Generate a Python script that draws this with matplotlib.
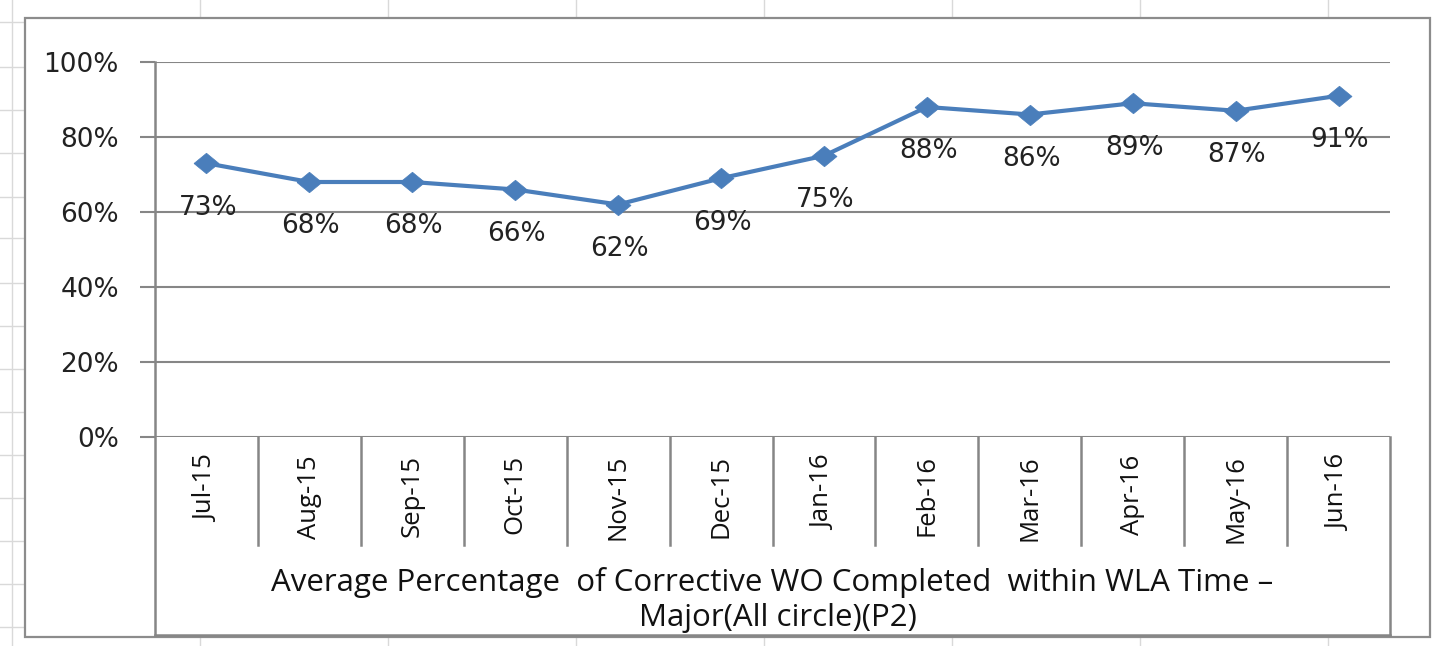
import matplotlib
matplotlib.use("Agg")
import matplotlib.pyplot as plt
from matplotlib.lines import Line2D
from matplotlib.patches import Rectangle
from matplotlib.transforms import blended_transform_factory

categories = ["Jul-15", "Aug-15", "Sep-15", "Oct-15", "Nov-15", "Dec-15",
              "Jan-16", "Feb-16", "Mar-16", "Apr-16", "May-16", "Jun-16"]
values = [73, 68, 68, 66, 62, 69, 75, 88, 86, 89, 87, 91]
y_ticks = [0, 20, 40, 60, 80, 100]
y_tick_labels = ["0%", "20%", "40%", "60%", "80%", "100%"]
title_lines = ["Average Percentage  of Corrective WO Completed  within WLA Time \u2013",
               "Major(All circle)(P2)"]

W, H = 1435, 646
fig = plt.figure(figsize=(W / 100, H / 100), dpi=100)
fig.patch.set_facecolor("white")

def fx(px):
    return px / W

def fy(py):
    return 1 - py / H

# faint spreadsheet gridlines in the background
faint = "#d9d9d9"
for x in [200, 388, 576, 764, 952, 1140, 1328]:
    fig.add_artist(Line2D([fx(x), fx(x)], [0, 1], color=faint, lw=1, zorder=-3))
fig.add_artist(Line2D([fx(12), fx(12)], [0, 1], color=faint, lw=1, zorder=-3))
for y in [22, 67, 110, 153, 197, 238, 283, 326, 369, 412, 455, 498, 541, 584, 627]:
    fig.add_artist(Line2D([0, fx(25)], [fy(y), fy(y)], color=faint, lw=1, zorder=-3))

# chart area
fig.add_artist(Rectangle((fx(25), fy(637)), fx(1430) - fx(25), fy(18) - fy(637),
                         facecolor="white", edgecolor="#8c8c8c", lw=1.6, zorder=-2))

left, right, top, bottom = 155, 1390, 62, 437
ax = fig.add_axes([fx(left), fy(bottom), fx(right) - fx(left), fy(top) - fy(bottom)])
ax.patch.set_alpha(0)

x = list(range(len(categories)))
blue = "#4a7ebb"
diamond = [(-1, 0), (0, 0.82), (1, 0), (0, -0.82), (-1, 0)]
ax.plot(x, values, color=blue, lw=3.0, marker=diamond, markersize=18,
        markerfacecolor=blue, markeredgecolor=blue, markeredgewidth=0.5,
        zorder=5, clip_on=False)

for xi, v in zip(x, values):
    ax.annotate(f"{v}%", (xi, v), xytext=(1, -32), textcoords="offset points",
                ha="center", va="center", fontsize=19, family="DejaVu Sans",
                color="#222222", zorder=6)

ax.set_xlim(-0.5, len(categories) - 0.5)
ax.set_ylim(0, 100)
ax.set_yticks(y_ticks)
ax.set_yticklabels(y_tick_labels, fontsize=19, family="DejaVu Sans", color="#222222")
ax.tick_params(axis="y", length=11, width=1.5, color="#868686", pad=15)
ax.set_xticks([])
ax.grid(axis="y", color="#868686", lw=1.5)
ax.set_axisbelow(True)
for s in ["top", "right", "bottom", "left"]:
    ax.spines[s].set_visible(False)

grey = "#868686"
tr = blended_transform_factory(ax.transData, ax.transAxes)
box_bottom = -(635 - bottom) / (bottom - top)
sep_bottom = -(545 - bottom) / (bottom - top)
ax.add_line(Line2D([-0.5, -0.5], [1, box_bottom], transform=tr, color=grey, lw=1.8, clip_on=False))
ax.add_line(Line2D([len(categories) - 0.5] * 2, [0, box_bottom], transform=tr, color=grey, lw=1.8, clip_on=False))
ax.add_line(Line2D([-0.5, len(categories) - 0.5], [box_bottom, box_bottom], transform=tr, color=grey, lw=1.8, clip_on=False))
for b in range(1, len(categories)):
    ax.add_line(Line2D([b - 0.5, b - 0.5], [0, sep_bottom], transform=tr, color=grey, lw=1.8, clip_on=False))

lab_top = -(455 - bottom) / (bottom - top)
for xi, c in zip(x, categories):
    ax.text(xi, lab_top, c, transform=tr, rotation=90, ha="center", va="top",
            fontsize=18.5, family="Open Sans", color="#111111")

ax.text(0.5 * (len(categories) - 1), -(583 - bottom) / (bottom - top), title_lines[0],
        transform=tr, ha="center", va="center", fontsize=22.5, family="Open Sans", color="#111111")
ax.text(0.5 * (len(categories) - 1) + 0.05, -(618 - bottom) / (bottom - top), title_lines[1],
        transform=tr, ha="center", va="center", fontsize=22.5, family="Open Sans", color="#111111")

fig.savefig("out.png", dpi=100)
